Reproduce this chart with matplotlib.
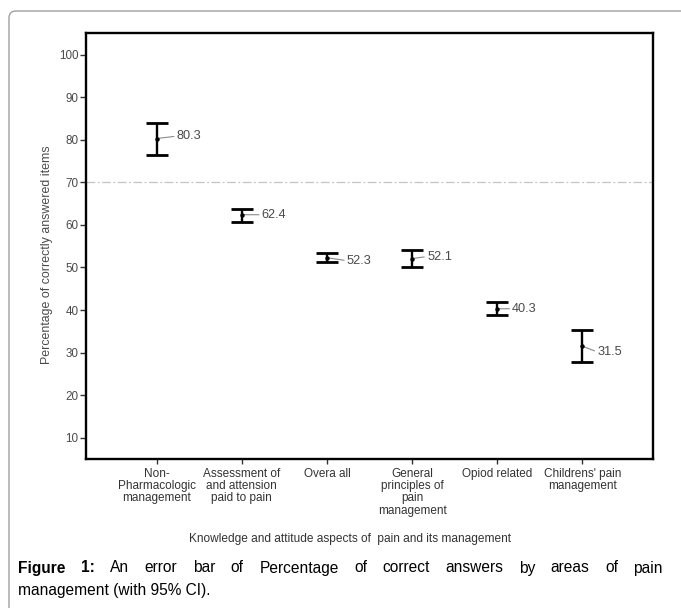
import matplotlib
matplotlib.use("Agg")
import matplotlib.pyplot as plt
from matplotlib.patches import FancyBboxPatch

plt.rcParams['font.family'] = ['Liberation Sans', 'DejaVu Sans']

# ---- data ----
categories = ["Non-\nPharmacologic\nmanagement",
              "Assessment of\nand attension\npaid to pain",
              "Overa all",
              "General\nprinciples of\npain\nmanagement",
              "Opiod related",
              "Childrens' pain\nmanagement"]
means = [80.3, 62.4, 52.3, 52.1, 40.3, 31.5]
ci_low = [76.5, 60.8, 51.4, 50.0, 38.8, 27.9]
ci_high = [83.9, 63.8, 53.3, 54.2, 42.0, 35.2]
yticks = [10, 20, 30, 40, 50, 60, 70, 80, 90, 100]
reference_value = 70

# label placement (pixels, style only)
label_dx_px = [20, 20, 20, 15, 15, 15]
label_dy_px = [2.4, 0, -3, 2, 0, -5.7]

W, H, DPI = 681, 608, 100
fig = plt.figure(figsize=(W / DPI, H / DPI), dpi=DPI)

# outer rounded frame
frame = FancyBboxPatch((9 / DPI, -1.0), 8.0, (H - 11) / DPI + 1.0,
                       boxstyle="round,pad=0,rounding_size=0.07",
                       transform=fig.dpi_scale_trans, fill=False,
                       edgecolor='#a0a0a0', linewidth=1.0)
fig.patches.append(frame)

L, R, T, B = 86, 653, 33, 459
ax = fig.add_axes([L / W, (H - B) / H, (R - L) / W, (B - T) / H])

x = list(range(1, len(means) + 1))
yerr = [[m - lo for m, lo in zip(means, ci_low)],
        [hi - m for m, hi in zip(means, ci_high)]]
ax.errorbar(x, means, yerr=yerr, fmt='o', color='black', ecolor='black',
            markersize=2.2, elinewidth=1.7, capsize=7.9, capthick=2.0, zorder=3)

ax.axhline(reference_value, color='#c4c4c4', linestyle='-.', linewidth=0.9,
           dashes=(7, 2, 1.5, 2), zorder=1)

for xi, m, dx, dy in zip(x, means, label_dx_px, label_dy_px):
    ax.annotate(f"{m:.1f}", xy=(xi, m), xytext=(dx * 0.72, dy * 0.72),
                textcoords='offset points', ha='left', va='center',
                fontsize=9.2, color='#4a4a4a',
                arrowprops=dict(arrowstyle='-', color='#8a8a8a', lw=0.8,
                                shrinkA=0, shrinkB=0, relpos=(0, 0.5)))

ax.set_xlim(0.17, 6.83)
ax.set_ylim(5.0, 105.1)
ax.set_yticks(yticks)
ax.set_yticklabels([str(v) for v in yticks])
ax.set_xticks(x)
ax.set_xticklabels(categories, linespacing=1.02)

for s in ax.spines.values():
    s.set_linewidth(1.7)
    s.set_color('black')

ax.tick_params(axis='y', direction='out', length=4.5, width=1, color='#333333',
               labelsize=8.4, labelcolor='#4a4a4a', pad=1)
ax.tick_params(axis='x', direction='out', length=3.5, width=1, color='#333333',
               labelsize=8.5, labelcolor='#333333', pad=3)

ax.text((47 - L) / (R - L), (B - 255) / (B - T),
        "Percentage of correctly answered items", rotation=90,
        ha='center', va='center', transform=ax.transAxes,
        fontsize=8.9, color='#4a4a4a')
ax.text((350 - L) / (R - L), (B - 539) / (B - T),
        "Knowledge and attitude aspects of  pain and its management",
        ha='center', va='center', transform=ax.transAxes,
        fontsize=8.6, color='#333333')

# ---- caption (justified first line) ----
fig.canvas.draw()
renderer = fig.canvas.get_renderer()
cap_size = 11.2
line1 = [("Figure", 'bold'), ("1:", 'bold'), ("An", 'normal'), ("error", 'normal'),
         ("bar", 'normal'), ("of", 'normal'), ("Percentage", 'normal'),
         ("of", 'normal'), ("correct", 'normal'), ("answers", 'normal'),
         ("by", 'normal'), ("areas", 'normal'), ("of", 'normal'), ("pain", 'normal')]
x0, x1 = 18, 663
y1 = H - 568
texts = []
widths = []
for w, wt in line1:
    t = fig.text(0, y1 / H, w, fontsize=cap_size, fontweight=wt,
                 color='black', va='center', ha='left')
    texts.append(t)
    widths.append(t.get_window_extent(renderer).width)
gap = (x1 - x0 - sum(widths)) / (len(widths) - 1)
cx = x0
for t, wd in zip(texts, widths):
    t.set_x(cx / W)
    cx += wd + gap
fig.text(x0 / W, (H - 590) / H, "management (with 95% CI).", fontsize=cap_size,
         color='black', va='center', ha='left')

fig.savefig("out.png", dpi=DPI)
